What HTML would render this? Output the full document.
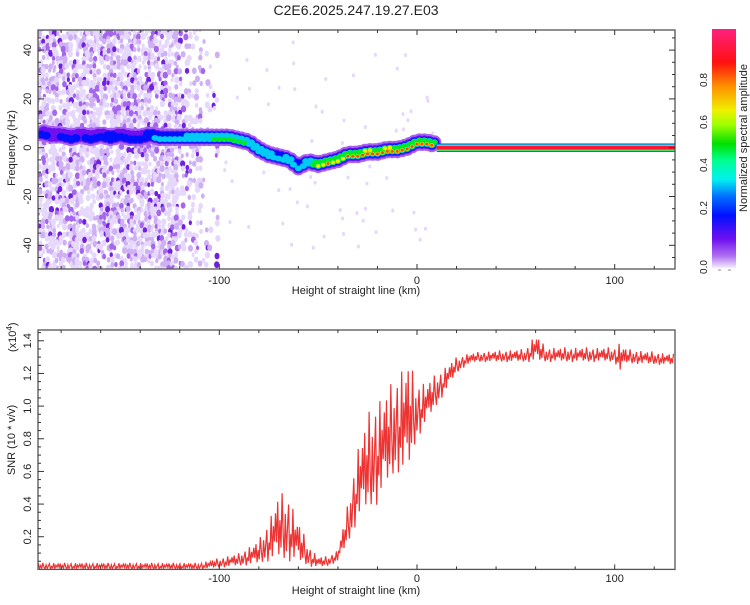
<!DOCTYPE html>
<html><head><meta charset="utf-8">
<style>
body{margin:0;background:#fff;}
svg text{font-family:"Liberation Sans",sans-serif;fill:#222;}
</style></head>
<body>
<svg id="c" width="750" height="600" xmlns="http://www.w3.org/2000/svg">
<defs>
<linearGradient id="cb" x1="0" y1="1" x2="0" y2="0">
<stop offset="0" stop-color="#f4ecff"/><stop offset="0.05" stop-color="#b070f0"/>
<stop offset="0.12" stop-color="#7010f0"/><stop offset="0.22" stop-color="#0010ff"/>
<stop offset="0.3" stop-color="#0070ff"/><stop offset="0.37" stop-color="#00f0f0"/>
<stop offset="0.45" stop-color="#00ff90"/><stop offset="0.52" stop-color="#00e000"/>
<stop offset="0.6" stop-color="#a0ff00"/><stop offset="0.66" stop-color="#f0f000"/>
<stop offset="0.76" stop-color="#ff9000"/><stop offset="0.86" stop-color="#ff1010"/>
<stop offset="1" stop-color="#ff2080"/>
</linearGradient>
<clipPath id="clipTop"><rect x="38" y="30" width="637" height="239"/></clipPath>
<clipPath id="clipBot"><rect x="38" y="330" width="637" height="240"/></clipPath>
</defs>
<text x="356" y="15" font-size="14" text-anchor="middle">C2E6.2025.247.19.27.E03</text>
<g id="topg" clip-path="url(#clipTop)"></g>
<g id="botg" clip-path="url(#clipBot)"></g>
<g id="axes"></g>
<rect x="712" y="29" width="24" height="239" fill="url(#cb)"/>
<text x="0" y="0" font-size="11" text-anchor="middle" transform="translate(747,138) rotate(-90)">Normalized spectral amplitude</text>
<text font-size="10" text-anchor="middle" transform="translate(707,267) rotate(-90)">0.0</text>
<text font-size="10" text-anchor="middle" transform="translate(707,208) rotate(-90)">0.2</text>
<text font-size="10" text-anchor="middle" transform="translate(707,165) rotate(-90)">0.4</text>
<text font-size="10" text-anchor="middle" transform="translate(707,122) rotate(-90)">0.6</text>
<text font-size="10" text-anchor="middle" transform="translate(707,80) rotate(-90)">0.8</text>
<line x1="718" y1="270" x2="721" y2="270" stroke="#888"/>
<line x1="728" y1="270" x2="731" y2="270" stroke="#888"/>
</svg>
<script>
// ---- data ----
const ridgeX = [-190,-185,-180,-175,-170,-165,-160,-155,-150,-145,-140,-135,-130,-125,-120,-115,-110,-105,-100,-95,-90,-85,-80,-75,-70,-65,-60,-55,-50,-45,-40,-35,-30,-25,-20,-15,-10,-5,0,5,10];
const ridgeF = [6,5,5,4,5,4,5,4,5,4,4,5,4,4,4,4,4,4,4,4,3,2,-1,-3,-4,-5,-8,-6,-7,-6,-5,-3,-3,-2,-2,-1,-1,0,2,2,1];
const ridgeAmp = [0.3,0.18,0.2,0.25,0.18,0.22,0.2,0.3,0.2,0.22,0.25,0.3,0.35,0.35,0.4,0.45,0.45,0.45,0.5,0.55,0.5,0.45,0.45,0.45,0.4,0.45,0.4,0.45,0.7,0.75,0.7,0.75,0.8,0.85,0.8,0.85,0.8,0.8,0.8,0.8,0.75];
const bandStart = 10, bandEnd = 132, bandF = 0;
const snrX  = [-192,-110,-100,-90,-80,-75,-70,-65,-60,-55,-50,-45,-40,-35,-30,-25,-20,-15,-10,-5,0,5,10,15,20,25,30,40,55,60,65,100,103,106,130];
const snrLo = [0,0,0.01,0.02,0.03,0.05,0.05,0.05,0.04,0.02,0.01,0.02,0.05,0.15,0.3,0.35,0.4,0.5,0.6,0.55,0.8,0.9,1.0,1.1,1.2,1.25,1.27,1.27,1.27,1.27,1.27,1.27,1.2,1.26,1.25];
const snrHi = [0.04,0.04,0.07,0.1,0.18,0.3,0.47,0.46,0.3,0.15,0.08,0.08,0.12,0.4,0.75,0.95,1.05,1.1,1.2,1.3,1.15,1.15,1.2,1.25,1.3,1.32,1.33,1.34,1.35,1.45,1.36,1.36,1.4,1.35,1.32];
const xTicks = [-100,0,100];
const yTopTicks = [-40,-20,0,20,40];
const yBotTicks = [0.2,0.4,0.6,0.8,1.0,1.2,1.4];

// ---- axis functions ----
const X0=38,X1=675;
const xmin=-191.7,xmax=130.5;
const sx=v=>X0+(v-xmin)/(xmax-xmin)*(X1-X0);
const syT=v=>147.7-v*2.44;
const syB=v=>569.4-v*163.3;
const NS="http://www.w3.org/2000/svg";
function mk(tag,attrs,parent){const e=document.createElementNS(NS,tag);for(const k in attrs)e.setAttribute(k,attrs[k]);parent.appendChild(e);return e;}
const topG=document.getElementById('topg'),botG=document.getElementById('botg'),axes=document.getElementById('axes');

// background speckle texture (deterministic hash)
let seed=12345;function rnd(){seed=(seed*1103515245+12345)%2147483648;return seed/2147483648;}
const spk=mk('g',{},topG);


for(let px=36;px<218;px+=3.4){
  const dens = px<178?0.7:(px<200?0.35:0.12);
  for(let py=28;py<272;py+=4.2){
    if(rnd()<dens){
      const r=rnd();
      const col=r<0.5?'#e6d8fb':(r<0.8?'#cfb0f4':(r<0.94?'#a466ec':'#7020e0'));
      const w=3+rnd()*2.5;
      mk('ellipse',{cx:px+rnd()*2,cy:py+rnd()*2,rx:w/2,ry:w/2+0.8,fill:col},spk);
    }
  }
}
for(let i=0;i<70;i++){const vx=-100+rnd()*110,vy=-45+rnd()*90;
  mk('rect',{x:sx(vx),y:syT(vy),width:3,height:4,rx:1.5,fill:'#e6d8fb'},spk);}

function ampColor(a){
  const st=[[0,[244,236,255]],[0.05,[176,112,240]],[0.12,[112,16,240]],[0.22,[0,16,255]],[0.3,[0,112,255]],[0.37,[0,240,240]],[0.45,[0,255,144]],[0.52,[0,224,0]],[0.6,[160,255,0]],[0.66,[240,240,0]],[0.76,[255,144,0]],[0.86,[255,16,16]],[1,[255,32,128]]];
  for(let i=1;i<st.length;i++){if(a<=st[i][0]){const t=(a-st[i-1][0])/(st[i][0]-st[i-1][0]);const c=st[i-1][1].map((v,j)=>Math.round(v+(st[i][1][j]-v)*t));return `rgb(${c})`;}}
  return 'rgb(255,32,128)';
}
// ridge halo
const rg=mk('g',{},topG);


const layers=[[0.06,7,7],[0.12,5.5,5],[0.22,4.5,3.8],[0.35,3.6,3],[0.5,3,2.4],[0.66,2.2,1.9],[0.82,1.6,1.4]];
for(const [lv,w,h] of layers){
  for(let i=0;i<ridgeX.length-1;i++){
    for(let s=0;s<4;s++){
      const t=s/4;const vx=ridgeX[i]+(ridgeX[i+1]-ridgeX[i])*t;const vf=ridgeF[i]+(ridgeF[i+1]-ridgeF[i])*t+(s%2?1:-0.5);
      const a=ridgeAmp[i]+(ridgeAmp[i+1]-ridgeAmp[i])*t;
      const local=a*(s%2?0.8:1.1);
      if(local>=lv){mk('ellipse',{cx:sx(vx),cy:syT(vf),rx:w,ry:h,fill:ampColor(lv)},rg);}
    }
  }
}
// constant band
const bandLayers=[[0.12,4.2],[0.3,3.6],[0.45,3.1],[0.6,2.7],[0.72,2.3],[0.9,1.9]];
const bg=mk('g',{},topG);


for(const [lv,h] of bandLayers){
  mk('rect',{x:sx(bandStart),y:syT(bandF)-h,width:sx(bandEnd)-sx(bandStart),height:2*h,fill:ampColor(lv)},bg);
}

// SNR line: zigzag between envelopes
const wseq=[0.3,0.9,0.1,0.6,0.2,1,0.4,0.05,0.7,0.15,0.5,0.85,0.0,0.45,0.25,0.95,0.1,0.65,0.35,0.8];
let pts=[];let k=0;
for(let v=snrX[0];v<=snrX[snrX.length-1];v+=0.55){
  let i=0;while(i<snrX.length-2&&snrX[i+1]<v)i++;
  const t=(v-snrX[i])/(snrX[i+1]-snrX[i]);
  const lo=snrLo[i]+(snrLo[i+1]-snrLo[i])*t,hi=snrHi[i]+(snrHi[i+1]-snrHi[i])*t;
  const w=wseq[k%wseq.length];k++;
  pts.push(sx(v).toFixed(1)+','+syB(lo+(hi-lo)*w).toFixed(1));
}
const ln=mk('polyline',{points:pts.join(' '),fill:'none',stroke:'#ee3333','stroke-width':1.2},botG);



// axes
function frame(y0,y1,name){
  const r=mk('rect',{x:X0,y:y0,width:X1-X0,height:y1-y0,fill:'none',stroke:'#555','stroke-width':1.3},axes);
  
  
  for(let v=-180;v<=120;v+=20){const big=v%100===0;const L=big?5:3;
    mk('line',{x1:sx(v),y1:y1,x2:sx(v),y2:y1-L,stroke:'#333'},axes);
    mk('line',{x1:sx(v),y1:y0,x2:sx(v),y2:y0+L,stroke:'#333'},axes);}
}
frame(30,269,'top-plot-frame');frame(330,569.4,'bottom-plot-frame');
for(const v of xTicks){
  for(const yy of [284,582]){const t=mk('text',{x:sx(v),y:yy,'font-size':11,'text-anchor':'middle'},axes);t.textContent=v;
    
    }
}
for(let v=-45;v<=45;v+=5){const L=v%20===0?6:3;mk('line',{x1:X0,y1:syT(v),x2:X0+L,y2:syT(v),stroke:'#333'},axes);mk('line',{x1:X1,y1:syT(v),x2:X1-L,y2:syT(v),stroke:'#333'},axes);}
for(const v of yTopTicks){const t=mk('text',{'font-size':11,'text-anchor':'middle',transform:`translate(31,${syT(v)}) rotate(-90)`},axes);t.textContent=v;
  
  }
for(let v=0.05;v<1.46;v+=0.05){const L=(Math.round(v*100)%20===0)?6:3;mk('line',{x1:X0,y1:syB(v),x2:X0+L,y2:syB(v),stroke:'#333'},axes);}
for(const v of yBotTicks){const t=mk('text',{'font-size':11,'text-anchor':'middle',transform:`translate(31,${syB(v)}) rotate(-90)`},axes);t.textContent=v.toFixed(1);
  
  }
function lab(txt,attrs,name){const t=mk('text',attrs,axes);t.textContent=txt;return t;}
lab('Height of straight line (km)',{x:356,y:294,'font-size':11,'text-anchor':'middle'},'x-axis-title-top');
lab('Height of straight line (km)',{x:356,y:594,'font-size':11,'text-anchor':'middle'},'x-axis-title-bottom');
lab('Frequency (Hz)',{'font-size':11,'text-anchor':'middle',transform:'translate(15,148) rotate(-90)'},'y-axis-title-top');
lab('SNR (10 * v/v)',{'font-size':11,'text-anchor':'middle',transform:'translate(15,440) rotate(-90)'},'y-axis-title-bottom');
const ex=lab('(x10',{'font-size':11,transform:'translate(16,352) rotate(-90)'},'y-axis-exponent');
const sup=mk('tspan',{'font-size':8,dy:-4},ex);sup.textContent='4';
const cl=mk('tspan',{'font-size':11,dy:4},ex);cl.textContent=')';
</script>
</body></html>
